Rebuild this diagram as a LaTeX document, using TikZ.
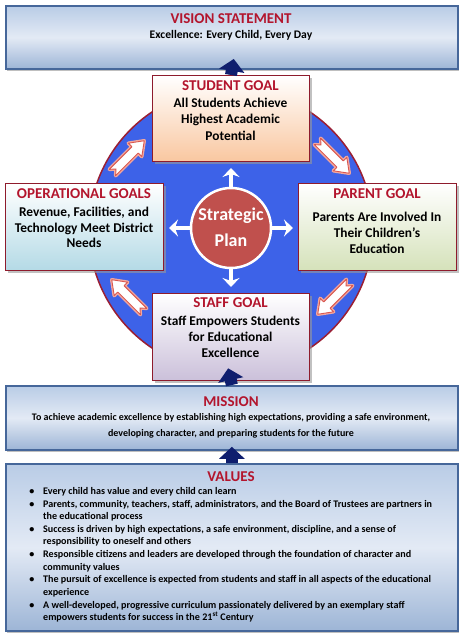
\documentclass[tikz,border=0pt]{standalone}
\usepackage{fontspec}
\setmainfont{Carlito}
\usetikzlibrary{arrows.meta,shadows}
\definecolor{titlered}{HTML}{B3152D}
\definecolor{boxedge}{HTML}{46679A}
\definecolor{vbtop}{HTML}{B9CCE6}
\definecolor{vbmid}{HTML}{E3EAF5}
\definecolor{vbbot}{HTML}{9DB5D6}
\definecolor{goaledge}{HTML}{8E1B2C}
\definecolor{ringblue}{HTML}{3D62E8}
\definecolor{ringedge}{HTML}{9B1F33}
\definecolor{planred}{HTML}{C0504D}
\definecolor{navy}{HTML}{0F1E6E}
\definecolor{arrowred}{HTML}{D9574F}
\definecolor{arrowglow}{HTML}{F2A79F}
\definecolor{peach}{HTML}{F9C7A0}
\definecolor{aqua}{HTML}{B4DAE6}
\definecolor{olive}{HTML}{D5E2BA}
\definecolor{lav}{HTML}{CBC0DA}
\newcommand{\RingArrow}[3]{%
  \begin{scope}[shift={(#1,#2)}, rotate=#3]
    \filldraw[draw=arrowglow, line width=3.5pt, fill=white, line join=round]
      (-22,4.5) -- (10,4.5) -- (10,9.5) -- (23,0) -- (10,-9.5) -- (10,-4.5) -- (-22,-4.5) -- (-17,0) -- cycle;
    \filldraw[draw=arrowred, line width=0.9pt, fill=white, line join=round]
      (-22,4.5) -- (10,4.5) -- (10,9.5) -- (23,0) -- (10,-9.5) -- (10,-4.5) -- (-22,-4.5) -- (-17,0) -- cycle;
  \end{scope}}
\begin{document}
\begin{tikzpicture}[x=1pt,y=1pt,
  bigbox/.style={rectangle, draw=boxedge, line width=1.8pt, inner sep=0pt, anchor=north west,
     top color=vbtop, bottom color=vbbot, middle color=vbmid,
     drop shadow={shadow xshift=1.5pt, shadow yshift=-2.5pt, fill=black!50, opacity=0.5}},
  goalbox/.style={rectangle, draw=goaledge, line width=1pt, inner sep=0pt, anchor=north west,
     drop shadow={shadow xshift=2.5pt, shadow yshift=-2.5pt, fill=black!40, opacity=0.6}},
  ttl/.style={anchor=base, inner sep=0pt, text=titlered, font=\bfseries\fontsize{15}{17}\selectfont},
  body/.style={anchor=base, inner sep=0pt, font=\bfseries\fontsize{13.4}{15}\selectfont},
  mtext/.style={anchor=base, inner sep=0pt, font=\bfseries\fontsize{10}{12}\selectfont},
  small/.style={anchor=base, inner sep=0pt, font=\bfseries\fontsize{10.1}{12}\selectfont},
  valline/.style={small, anchor=base west},
  navyarrow/.style={draw=navy, line width=12pt, -{Triangle[length=12pt,width=25pt]}},
  wharrow/.style={draw=white, line width=3.5pt, -{Stealth[length=9pt,width=17pt,inset=3pt]}},
  plantext/.style={anchor=base, inner sep=0pt, text=white, font=\bfseries\fontsize{18}{20}\selectfont}
]
\useasboundingbox (0,0) rectangle (462,638);
\fill[white] (0,0) rectangle (462,638);

% ring
\node[circle, fill=ringblue, draw=ringedge, line width=1.5pt, minimum size=284pt, inner sep=0pt] (ring) at (231,408) {};
\RingArrow{128}{481}{45}
\RingArrow{333}{481}{-45}
\RingArrow{334}{340}{-135}
\RingArrow{128}{342}{135}

% goal boxes
\node[goalbox, top color=white, bottom color=peach, minimum width=157pt, minimum height=86pt] (student) at (152,563) {};
\node[goalbox, top color=white, bottom color=aqua, minimum width=158pt, minimum height=87pt] (oper) at (5,455) {};
\node[goalbox, top color=white, bottom color=olive, minimum width=158pt, minimum height=87pt] (parent) at (298,455) {};
\node[goalbox, top color=white, bottom color=lav, minimum width=157pt, minimum height=87pt] (staff) at (152,345) {};

% big boxes
\node[bigbox, minimum width=452pt, minimum height=63pt] (vision) at (5,633) {};
\node[bigbox, minimum width=452pt, minimum height=64pt] (mission) at (5,253) {};
\node[bigbox, minimum width=452pt, minimum height=167pt] (values) at (5,175) {};

% strategic plan
\node[circle, fill=planred, draw=white, line width=2.5pt, minimum size=80pt, inner sep=0pt] (plan) at (231,410) {};
\coordinate (wU) at (231,470);
\coordinate (wD) at (231,351);
\coordinate (wL) at (169,410);
\coordinate (wR) at (293,410);
\draw[wharrow] (plan.north) -- (wU);
\draw[wharrow] (plan.south) -- (wD);
\draw[wharrow] (plan.west) -- (wL);
\draw[wharrow] (plan.east) -- (wR);
\node[plantext] (p1) at (231,417) {Strategic};
\node[plantext] (p2) at (231,391.4) {Plan};

% navy arrows
\draw[navyarrow, shorten >=-11pt] (student.north) -- (vision.south);
\draw[navyarrow, shorten >=-13pt] (mission.north) -- (staff.south);
\draw[navyarrow, shorten >=-4pt] (values.north) -- (mission.south);

% vision text
\node[ttl] (vt) at (231,614) {VISION STATEMENT};
\node[anchor=base, inner sep=0pt, font=\bfseries\fontsize{11.6}{13}\selectfont] (vs) at (231,599.2) {Excellence: Every Child, Every Day};

% student
\node[ttl] (st) at (230.5,547) {STUDENT GOAL};
\node[body] (s1) at (230.5,530.6) {All Students Achieve};
\node[body] (s2) at (230.5,514.6) {Highest Academic};
\node[body] (s3) at (230.5,497.6) {Potential};

% operational
\node[ttl] (ot) at (84,439) {OPERATIONAL GOALS};
\node[body] (o1) at (84,421.6) {Revenue, Facilities, and};
\node[body] (o2) at (84,405.6) {Technology Meet District};
\node[body] (o3) at (84,390.6) {Needs};

% parent
\node[ttl] (pt) at (377,439) {PARENT GOAL};
\node[body] (q1) at (377,416.6) {Parents Are Involved In};
\node[body] (q2) at (377,400.6) {Their Children’s};
\node[body] (q3) at (377,384.6) {Education};

% staff
\node[ttl] (tt) at (230.5,330) {STAFF GOAL};
\node[body] (t1) at (230.5,312.6) {Staff Empowers Students};
\node[body] (t2) at (230.5,296.6) {for Educational};
\node[body] (t3) at (230.5,280.6) {Excellence};

% mission
\node[ttl] (mt) at (231,231) {MISSION};
\node[mtext] (m1) at (231,217.7) {To achieve academic excellence by establishing high expectations, providing a safe environment,};
\node[mtext] (m2) at (231,201.7) {developing character, and preparing students for the future};

% values
\node[ttl] (valt) at (231,156) {VALUES};
\node[small] (b1) at (32,143.4) {\textbullet};
\node[valline] (v1) at (43,143.4) {Every child has value and every child can learn};
\node[small] (b2) at (32,130.8) {\textbullet};
\node[valline] (v2) at (43,130.8) {Parents, community, teachers, staff, administrators, and the Board of Trustees are partners in};
\node[valline] (v3) at (43,118.2) {the educational process};
\node[small] (b3) at (32,105.6) {\textbullet};
\node[valline] (v4) at (43,105.6) {Success is driven by high expectations, a safe environment, discipline, and a sense of};
\node[valline] (v5) at (43,93.0) {responsibility to oneself and others};
\node[small] (b4) at (32,80.4) {\textbullet};
\node[valline] (v6) at (43,80.4) {Responsible citizens and leaders are developed through the foundation of character and};
\node[valline] (v7) at (43,67.8) {community values};
\node[small] (b5) at (32,55.2) {\textbullet};
\node[valline] (v8) at (43,55.2) {The pursuit of excellence is expected from students and staff in all aspects of the educational};
\node[valline] (v9) at (43,42.6) {experience};
\node[small] (b6) at (32,30.0) {\textbullet};
\node[valline] (v10) at (43,30.0) {A well-developed, progressive curriculum passionately delivered by an exemplary staff};
\node[valline] (v11) at (43,17.4) {empowers students for success in the 21\textsuperscript{st} Century};
\end{tikzpicture}
\end{document}
